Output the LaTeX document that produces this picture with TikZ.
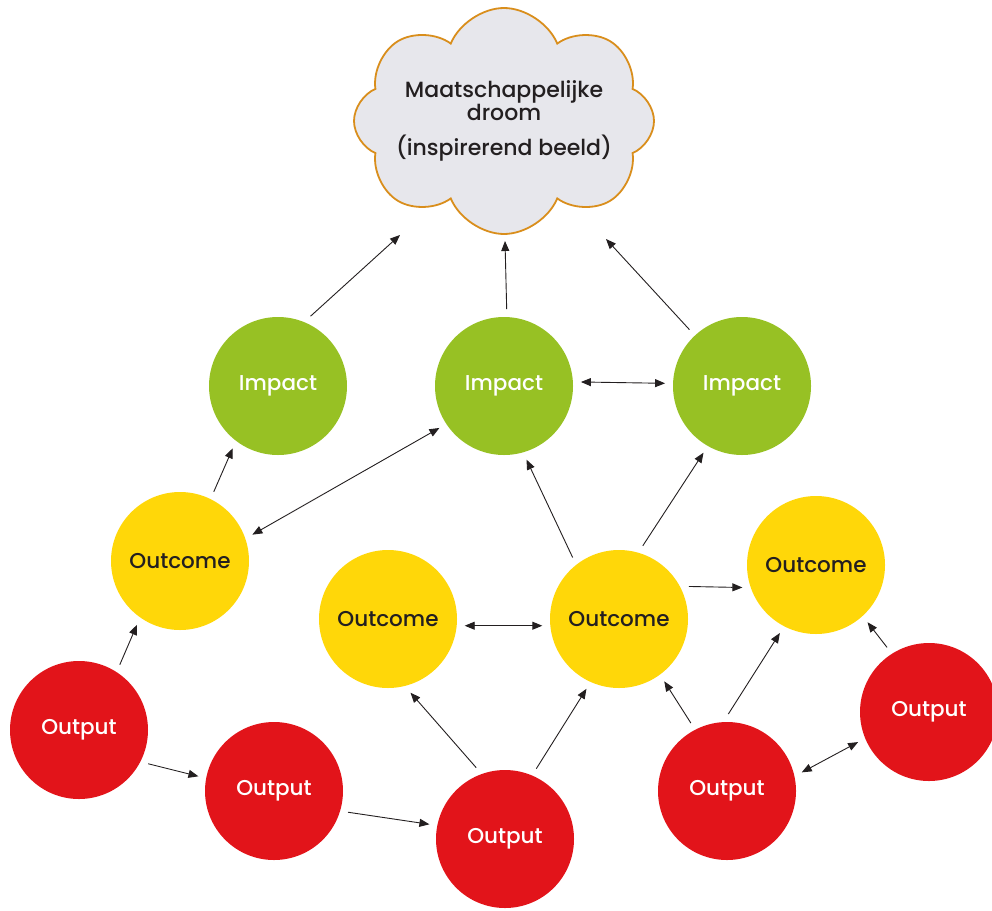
\documentclass[tikz,border=0pt]{standalone}
\usepackage{fontspec}
\setmainfont{Poppins Medium}
\usetikzlibrary{arrows.meta,shapes.symbols}

\definecolor{impactgreen}{HTML}{97C124}
\definecolor{outcomeyellow}{HTML}{FFD709}
\definecolor{outputred}{HTML}{E2141A}
\definecolor{cloudgrey}{HTML}{E7E7EC}
\definecolor{cloudorange}{HTML}{D98E1C}
\definecolor{inkblack}{HTML}{231F20}

\begin{document}
\begin{tikzpicture}[x=1pt,y=-1pt,
  blob/.style={circle,minimum size=138pt,inner sep=0pt,outer sep=8pt,
    font=\fontsize{21.5}{24}\selectfont},
  impact/.style={blob,fill=impactgreen,text=white},
  outcome/.style={blob,fill=outcomeyellow,text=inkblack},
  output/.style={blob,fill=outputred,text=white},
  link/.style={draw=inkblack,line width=0.9pt,-{Triangle[length=10pt,width=8pt]}},
  both/.style={link,{Triangle[length=10pt,width=8pt]}-{Triangle[length=10pt,width=8pt]}}]

  \useasboundingbox (0,0) rectangle (992,910);

  % Dream
  \node[cloud,cloud puffs=8,cloud puff arc=135,aspect=1.32,
    shape border rotate=22.5,minimum width=300pt,minimum height=226pt,
    inner sep=0pt,fill=cloudgrey,draw=cloudorange,line width=1.8pt]
    (dream) at (504,121) {};
  \node[text=inkblack,align=center,font=\fontsize{22}{22}\selectfont]
    (dreamtext) at (dream.center) {Maatschappelijke\\droom\\[13pt](inspirerend beeld)};
  \coordinate (d1) at (400,235);
  \coordinate (d2) at (505,241);
  \coordinate (d3) at (606,239);

  % Impact
  \node[impact] (i1) at (278,386) {Impact};
  \node[impact] (i2) at (504,386) {Impact};
  \node[impact] (i3) at (742,386) {Impact};

  % Outcome
  \node[outcome] (o1) at (180,561) {Outcome};
  \node[outcome] (o2) at (388,619) {Outcome};
  \node[outcome] (o3) at (619,619) {Outcome};
  \node[outcome] (o4) at (816,565) {Outcome};

  % Output
  \node[output] (p1) at (79,730) {Output};
  \node[output] (p2) at (274,791) {Output};
  \node[output] (p3) at (505,839) {Output};
  \node[output] (p4) at (727,791) {Output};
  \node[output] (p5) at (929,712) {Output};

  % Links
  \draw[link] (p1.58) -- (o1.236);
  \draw[link] (p1.334) -- (p2.169);
  \draw[link] (p2.344) -- (p3.169);
  \draw[link] (p3.112) -- (o2.287);
  \draw[both] (o2.355) -- (o3.185);
  \draw[link] (p3.66) -- (o3.245);
  \draw[link] (p4.118) -- (o3.306);
  \draw[link] (p4.89) -- (o4.242);
  \draw[link] (p5.123) -- (o4.312);
  \draw[both] (p4.14) -- (p5.203);
  \draw[link] (o3.25) -- (o4.197);
  \draw[link] (o3.127) -- (i2.287);
  \draw[link] (o3.72) -- (i3.240);
  \draw[link] (o1.64) -- (i1.234);
  \draw[both] (o1.20) -- (i2.213);
  \draw[both] (i2.3) -- (i3.178);
  \draw[link] (i1.65) -- (d1);
  \draw[link] (i2.88) -- (d2);
  \draw[link] (i3.133) -- (d3);

\end{tikzpicture}
\end{document}
